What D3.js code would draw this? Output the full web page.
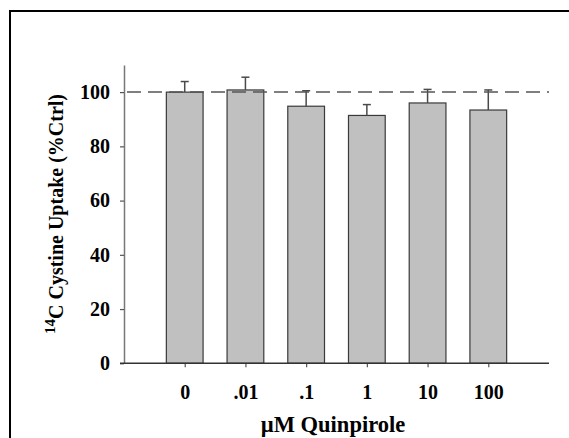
<!DOCTYPE html>
<html>
<head>
<meta charset="utf-8">
<script src="https://cdn.jsdelivr.net/npm/d3@7"></script>
<style>
  html, body { margin: 0; padding: 0; background: #fff; }
  svg { display: block; }
  text { font-family: "Liberation Serif", "Times New Roman", serif; font-weight: bold; fill: #000; }
</style>
</head>
<body>
<svg id="chart" width="569" height="438"></svg>
<script>
const categories = ["0", ".01", ".1", "1", "10", "100"];
const values = [100, 100.8, 94.8, 91.4, 96.0, 93.4];
const errors = [3.9, 4.7, 5.7, 4.0, 5.0, 7.4];
const yTicks = [0, 20, 40, 60, 80, 100];
const refLine = 100;
const xTitle = "\u00b5M Quinpirole";

const svg = d3.select("#chart");

// outer frame
svg.append("rect")
  .attr("x", 10).attr("y", 11)
  .attr("width", 620).attr("height", 520)
  .attr("fill", "none").attr("stroke", "#000").attr("stroke-width", 2);

const plotLeft = 124, plotRight = 549, plotTop = 65, plotBottom = 363.3;

const x = d3.scalePoint().domain(categories).range([plotLeft, plotRight]).padding(1);
const y = d3.scaleLinear().domain([0, 110]).range([plotBottom, plotTop]);
const barW = x.step() * 0.605;

const data = categories.map((c, i) => ({ c, v: values[i], e: errors[i] }));

// bars
svg.append("g").selectAll("rect").data(data).join("rect")
  .attr("x", d => x(d.c) - barW / 2)
  .attr("y", d => y(d.v))
  .attr("width", barW)
  .attr("height", d => y(0) - y(d.v))
  .attr("fill", "#c0c0c0")
  .attr("stroke", "#3a3a3a")
  .attr("stroke-width", 1.2);

// error bars
const eg = svg.append("g").attr("stroke", "#4a4a4a").attr("stroke-width", 1.5);
eg.selectAll("line.v").data(data).join("line").attr("class", "v")
  .attr("x1", d => x(d.c)).attr("x2", d => x(d.c))
  .attr("y1", d => y(d.v)).attr("y2", d => y(d.v + d.e));
eg.selectAll("line.h").data(data).join("line").attr("class", "h")
  .attr("x1", d => x(d.c) - 4).attr("x2", d => x(d.c) + 4)
  .attr("y1", d => y(d.v + d.e)).attr("y2", d => y(d.v + d.e));

// reference dashed line
svg.append("line")
  .attr("x1", plotLeft).attr("x2", plotRight)
  .attr("y1", y(refLine)).attr("y2", y(refLine))
  .attr("stroke", "#555").attr("stroke-width", 1.5)
  .attr("stroke-dasharray", "14,7")
  .attr("stroke-dashoffset", -3);

// y axis
const yAxis = svg.append("g").attr("transform", `translate(${plotLeft},0)`)
  .call(d3.axisLeft(y).tickValues(yTicks).tickSize(4).tickSizeOuter(0).tickPadding(10));
yAxis.select(".domain").attr("stroke", "#777").attr("stroke-width", 1.5);
yAxis.selectAll(".tick line").attr("stroke", "#555").attr("stroke-width", 1.2);
yAxis.selectAll(".tick text").attr("font-size", 20).attr("font-family", "Liberation Serif").attr("font-weight", "bold").attr("fill", "#000");

// x axis
const xAxis = svg.append("g").attr("transform", `translate(0,${plotBottom})`)
  .call(d3.axisBottom(x).tickSize(4).tickSizeOuter(0).tickPadding(18));
xAxis.select(".domain").remove();
xAxis.append("line").attr("x1", plotLeft - 4).attr("x2", plotRight).attr("y1", 0).attr("y2", 0)
  .attr("stroke", "#333").attr("stroke-width", 1.5);
xAxis.selectAll(".tick line").attr("stroke", "#555").attr("stroke-width", 1.2);
xAxis.selectAll(".tick text").attr("font-size", 20).attr("font-family", "Liberation Serif").attr("font-weight", "bold").attr("fill", "#000");

// x title
svg.append("text")
  .attr("x", 333).attr("y", 432)
  .attr("text-anchor", "middle")
  .attr("font-size", 22.5)
  .text(xTitle);

// y title
const yt = svg.append("text")
  .attr("transform", "translate(63,214) rotate(-90)")
  .attr("text-anchor", "middle")
  .attr("font-size", 20);
yt.append("tspan").attr("font-size", 15).attr("dy", -8).text("14");
yt.append("tspan").attr("dy", 8).text("C Cystine Uptake (%Ctrl)");
</script>
</body>
</html>
